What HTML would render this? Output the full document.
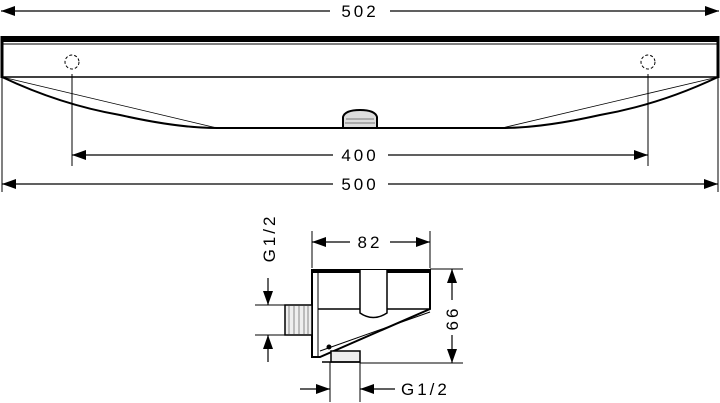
<!DOCTYPE html>
<html><head><style>html,body{margin:0;padding:0;background:#fff}svg{display:block}</style></head><body>
<svg width="720" height="403" viewBox="0 0 720 403" xmlns="http://www.w3.org/2000/svg" font-family="Liberation Sans, sans-serif" fill="none" stroke="#000">
<defs>
<marker id="a" viewBox="0 0 14 10" refX="14" refY="5" markerWidth="14" markerHeight="10" orient="auto" markerUnits="userSpaceOnUse"><path d="M0,0L14,5L0,10z" fill="#000" stroke="none"/></marker>
</defs>
<line x1="330" y1="11" x2="1" y2="11" stroke-width="1.2" marker-end="url(#a)"/>
<line x1="390" y1="11" x2="719" y2="11" stroke-width="1.2" marker-end="url(#a)"/>
<text x="360" y="17" font-size="17" text-anchor="middle" fill="#000" stroke="none" letter-spacing="3">502</text>
<rect x="1" y="36" width="718" height="6" fill="#000" stroke="none"/>
<line x1="2" y1="44" x2="718" y2="44" stroke-width="1"/>
<line x1="2" y1="36" x2="2" y2="78" stroke-width="3"/>
<line x1="718" y1="36" x2="718" y2="78" stroke-width="3"/>
<line x1="2" y1="77" x2="718" y2="77" stroke-width="1.5"/>
<line x1="217" y1="128" x2="502" y2="128" stroke-width="2"/>
<path d="M2,77 C40,95 80,108 120,115 C160,124 190,128 217,128" stroke-width="2"/>
<path d="M718,77 C680,95 640,108 600,115 C560,124 530,128 502,128" stroke-width="2"/>
<line x1="2" y1="77" x2="217" y2="128" stroke-width="0.8"/>
<line x1="718" y1="77" x2="502" y2="128" stroke-width="0.8"/>
<path d="M343,128 L343,117 Q345,110 360,110 Q375,110 377,117 L377,128 Z" fill="#ddd" stroke-width="2"/>
<line x1="346" y1="119" x2="374" y2="119" stroke="#777"/>
<line x1="345" y1="123" x2="375" y2="123" stroke="#777"/>
<circle cx="72" cy="62" r="7" stroke-dasharray="3,2" stroke-width="1"/>
<circle cx="648" cy="62" r="7" stroke-dasharray="3,2" stroke-width="1"/>
<line x1="72" y1="74" x2="72" y2="166" stroke-width="1"/>
<line x1="648" y1="74" x2="648" y2="166" stroke-width="1"/>
<line x1="2" y1="78" x2="2" y2="192" stroke-width="1"/>
<line x1="718" y1="78" x2="718" y2="192" stroke-width="1"/>
<line x1="333" y1="155" x2="72" y2="155" stroke-width="1.2" marker-end="url(#a)"/>
<line x1="388" y1="155" x2="648" y2="155" stroke-width="1.2" marker-end="url(#a)"/>
<text x="360" y="161" font-size="17" text-anchor="middle" fill="#000" stroke="none" letter-spacing="3">400</text>
<line x1="333" y1="184" x2="2" y2="184" stroke-width="1.2" marker-end="url(#a)"/>
<line x1="388" y1="184" x2="718" y2="184" stroke-width="1.2" marker-end="url(#a)"/>
<text x="360" y="190" font-size="17" text-anchor="middle" fill="#000" stroke="none" letter-spacing="3">500</text>
<line x1="312" y1="231" x2="312" y2="268" stroke-width="1"/>
<line x1="430" y1="231" x2="430" y2="268" stroke-width="1"/>
<line x1="350" y1="242" x2="312" y2="242" stroke-width="1.2" marker-end="url(#a)"/>
<line x1="390" y1="242" x2="430" y2="242" stroke-width="1.2" marker-end="url(#a)"/>
<text x="370" y="248" font-size="17" text-anchor="middle" fill="#000" stroke="none" letter-spacing="3">82</text>
<path d="M312,270 L430,270 L430,309 L320,357 L312,357 Z" stroke-width="2"/>
<rect x="312" y="269" width="118" height="4" fill="#000" stroke="none"/>
<line x1="318" y1="273" x2="318" y2="357" stroke-width="1"/>
<line x1="318" y1="309" x2="430" y2="309" stroke-width="1.5"/>
<line x1="320" y1="351" x2="430" y2="312" stroke-width="1"/>
<circle cx="329" cy="347" r="2" fill="#000"/>
<path d="M360,270 L360,313 Q373,322 387,313 L387,270" stroke-width="1.5" fill="#fff"/>
<rect x="285" y="305" width="27" height="30" fill="#eee" stroke-width="1.5"/>
<line x1="289" y1="306" x2="289" y2="334" stroke="#888"/><line x1="294" y1="306" x2="294" y2="334" stroke="#888"/><line x1="299" y1="306" x2="299" y2="334" stroke="#888"/><line x1="304" y1="306" x2="304" y2="334" stroke="#888"/><line x1="308" y1="306" x2="308" y2="334" stroke="#888"/>
<rect x="331" y="351" width="29" height="11" fill="#eee" stroke-width="1.5"/>
<line x1="322" y1="362" x2="360" y2="362" stroke-width="1.5"/>
<line x1="430" y1="269" x2="463" y2="269" stroke-width="1"/>
<line x1="360" y1="363" x2="463" y2="363" stroke-width="1"/>
<line x1="452" y1="300" x2="452" y2="269" stroke-width="1.2" marker-end="url(#a)"/>
<line x1="452" y1="335" x2="452" y2="363" stroke-width="1.2" marker-end="url(#a)"/>
<text x="0" y="0" transform="translate(458,318) rotate(-90)" font-size="17" text-anchor="middle" fill="#000" stroke="none" letter-spacing="3">66</text>
<line x1="255" y1="305" x2="285" y2="305" stroke-width="1"/>
<line x1="255" y1="335" x2="285" y2="335" stroke-width="1"/>
<line x1="268" y1="278" x2="268" y2="305" stroke-width="1.2" marker-end="url(#a)"/>
<line x1="268" y1="362" x2="268" y2="335" stroke-width="1.2" marker-end="url(#a)"/>
<text x="0" y="0" transform="translate(275,238) rotate(-90)" font-size="17" text-anchor="middle" fill="#000" stroke="none" letter-spacing="3">G1/2</text>
<line x1="330" y1="362" x2="330" y2="402" stroke-width="1"/>
<line x1="360" y1="362" x2="360" y2="402" stroke-width="1"/>
<line x1="300" y1="389" x2="330" y2="389" stroke-width="1.2" marker-end="url(#a)"/>
<line x1="395" y1="389" x2="360" y2="389" stroke-width="1.2" marker-end="url(#a)"/>
<text x="401" y="395" font-size="17" fill="#000" stroke="none" letter-spacing="3">G1/2</text>
</svg>
</body></html>
